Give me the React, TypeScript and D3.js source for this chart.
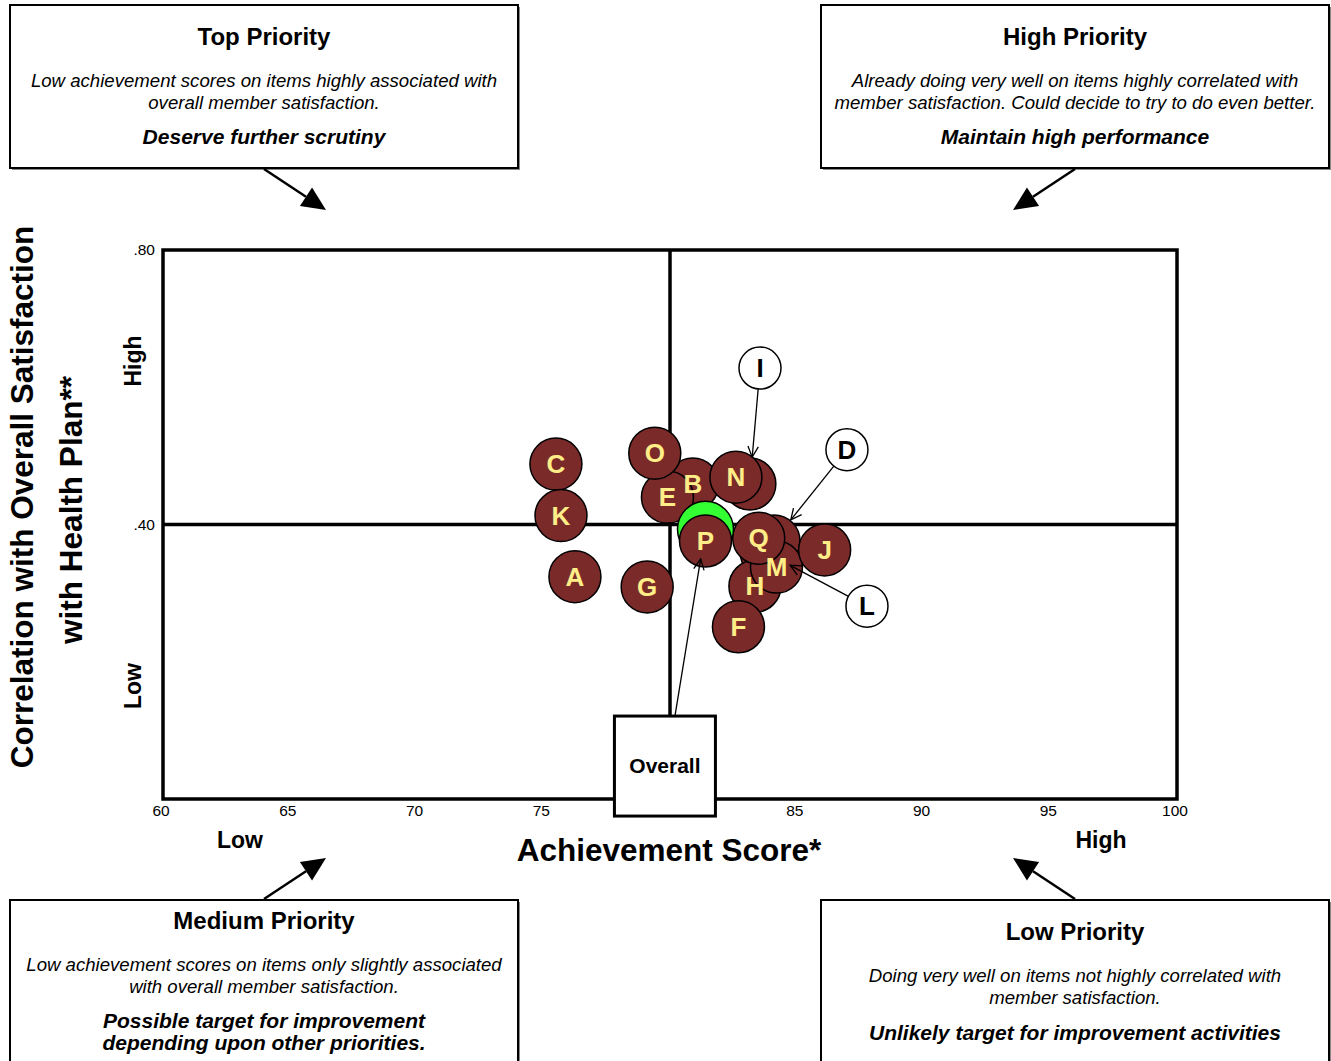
import React from "react";
import * as d3 from "d3";

// ---- data ----
const itemLabels = ["L", "D", "I", "B", "H", "M", "Q", "J", "N", "E", "O", "C", "K", "A", "G", "P", "F"];
const achievementScores = [83.8, 84.1, 83.15, 80.9, 83.35, 84.2, 83.5, 86.1, 82.6, 79.9, 79.4, 75.5, 75.7, 76.25, 79.1, 81.4, 82.7];
const correlations = [0.359, 0.376, 0.459, 0.459, 0.31, 0.338, 0.38, 0.363, 0.469, 0.44, 0.504, 0.488, 0.413, 0.324, 0.309, 0.376, 0.251];

const overallScore = 81.4;
const overallCorrelation = 0.393;

const xTicks = [60, 65, 70, 75, 85, 90, 95, 100];
const yTicks = [0.8, 0.4];
const xDivider = 80;
const yDivider = 0.4;

// callouts: label, callout position (data units)
const calloutLabels = ["I", "D", "L"];
const calloutX = [83.55, 86.98, 87.77];
const calloutY = [0.628, 0.509, 0.281];

const overallBoxX = 79.8;
const overallBoxY = 0.048;

const FONT = "'Liberation Sans', Arial, Helvetica, sans-serif";

const M = { left: 163, right: 1177, top: 250, bottom: 799 };

function App() {
  const x = d3.scaleLinear().domain([60, 100]).range([M.left, M.right]);
  const y = d3.scaleLinear().domain([0, 0.8]).range([M.bottom, M.top]);
  const R = 26;
  const CR = 21;

  const points = itemLabels.map((l, i) => ({ label: l, cx: x(achievementScores[i]), cy: y(correlations[i]) }));
  const ox = x(overallScore);
  const oy = y(overallCorrelation);

  const openHead = (x1: number, y1: number, x2: number, y2: number, key: string) => {
    const a = Math.atan2(y2 - y1, x2 - x1);
    const len = 12;
    const spread = 0.45;
    const p1 = [x2 - len * Math.cos(a - spread), y2 - len * Math.sin(a - spread)];
    const p2 = [x2 - len * Math.cos(a + spread), y2 - len * Math.sin(a + spread)];
    return (
      <g key={key}>
        <line x1={x1} y1={y1} x2={x2} y2={y2} stroke="#000" strokeWidth={1.3} />
        <polyline points={`${p1[0]},${p1[1]} ${x2},${y2} ${p2[0]},${p2[1]}`} fill="none" stroke="#000" strokeWidth={1.3} />
      </g>
    );
  };

  const filledArrow = (x1: number, y1: number, x2: number, y2: number, key: string) => {
    const a = Math.atan2(y2 - y1, x2 - x1);
    const len = 24;
    const half = 11;
    const bx = x2 - len * Math.cos(a);
    const by = y2 - len * Math.sin(a);
    const nx = -Math.sin(a);
    const ny = Math.cos(a);
    return (
      <g key={key}>
        <line x1={x1} y1={y1} x2={bx} y2={by} stroke="#000" strokeWidth={2.5} />
        <polygon points={`${x2},${y2} ${bx + nx * half},${by + ny * half} ${bx - nx * half},${by - ny * half}`} fill="#000" />
      </g>
    );
  };

  const box = (bx: number, by: number, w: number, h: number, key: string) => (
    <g key={key}>
      <rect x={bx + 2} y={by + 2} width={w} height={h} fill="#888" />
      <rect x={bx} y={by} width={w} height={h} fill="#fff" stroke="#000" strokeWidth={2} />
    </g>
  );

  const calloutShapes = calloutLabels.map((l, i) => {
    const cx = x(calloutX[i]);
    const cy = y(calloutY[i]);
    const t = points.find((p) => p.label === l)!;
    const a = Math.atan2(t.cy - cy, t.cx - cx);
    const sx = cx + CR * Math.cos(a);
    const sy = cy + CR * Math.sin(a);
    const ex = t.cx - (R + 1) * Math.cos(a);
    const ey = t.cy - (R + 1) * Math.sin(a);
    return { l, cx, cy, sx, sy, ex, ey };
  });

  const obx = x(overallBoxX);
  const oby = y(overallBoxY);
  const obW = 101;
  const obH = 100;
  const oStartX = obx + 10;
  const oStartY = oby - obH / 2;
  const oa = Math.atan2(oy - oStartY, ox - oStartX);
  const oEndX = ox - 30 * Math.cos(oa);
  const oEndY = oy - 30 * Math.sin(oa);

  const textItalic = { fontFamily: FONT, fontStyle: "italic", fontSize: 18.6, textAnchor: "middle" as const };
  const titleStyle = { fontFamily: FONT, fontWeight: "bold" as const, fontSize: 24, textAnchor: "middle" as const };
  const tagStyle = { fontFamily: FONT, fontWeight: "bold" as const, fontStyle: "italic", fontSize: 21, textAnchor: "middle" as const };

  return (
    <svg width={1331} height={1061} style={{ position: "absolute", left: 0, top: 0, background: "#fff" }}>
      {/* quadrant boxes */}
      {box(10, 5, 508, 163, "b1")}
      <text x={264} y={45} {...titleStyle}>Top Priority</text>
      <text x={264} y={87} {...textItalic}>Low achievement scores on items highly associated with</text>
      <text x={264} y={109} {...textItalic}>overall member satisfaction.</text>
      <text x={264} y={144} {...tagStyle}>Deserve further scrutiny</text>
      {filledArrow(264, 169, 326, 210, "a1")}

      {box(821, 5, 508, 163, "b2")}
      <text x={1075} y={45} {...titleStyle}>High Priority</text>
      <text x={1075} y={87} {...textItalic}>Already doing very well on items highly correlated with</text>
      <text x={1075} y={109} {...textItalic}>member satisfaction. Could decide to try to do even better.</text>
      <text x={1075} y={144} {...tagStyle}>Maintain high performance</text>
      {filledArrow(1075, 169, 1013, 210, "a2")}

      {box(10, 900, 508, 170, "b3")}
      <text x={264} y={929} {...titleStyle}>Medium Priority</text>
      <text x={264} y={971} {...textItalic}>Low achievement scores on items only slightly associated</text>
      <text x={264} y={993} {...textItalic}>with overall member satisfaction.</text>
      <text x={264} y={1028} {...tagStyle}>Possible target for improvement</text>
      <text x={264} y={1050} {...tagStyle}>depending upon other priorities.</text>
      {filledArrow(264, 899, 326, 858, "a3")}

      {box(821, 900, 508, 170, "b4")}
      <text x={1075} y={940} {...titleStyle}>Low Priority</text>
      <text x={1075} y={982} {...textItalic}>Doing very well on items not highly correlated with</text>
      <text x={1075} y={1004} {...textItalic}>member satisfaction.</text>
      <text x={1075} y={1040} {...tagStyle}>Unlikely target for improvement activities</text>
      {filledArrow(1075, 899, 1013, 858, "a4")}

      {/* plot frame */}
      <rect x={M.left} y={M.top} width={M.right - M.left} height={M.bottom - M.top} fill="#fff" stroke="#000" strokeWidth={3.5} />
      <line x1={x(xDivider)} x2={x(xDivider)} y1={M.top} y2={M.bottom} stroke="#000" strokeWidth={3.5} />
      <line x1={M.left} x2={M.right} y1={y(yDivider)} y2={y(yDivider)} stroke="#000" strokeWidth={3.5} />

      {/* ticks */}
      {xTicks.map((t) => (
        <text key={"x" + t} x={x(t) - 2} y={M.bottom + 17} fontFamily={FONT} fontSize={15.5} textAnchor="middle">{t}</text>
      ))}
      {yTicks.map((t) => (
        <text key={"y" + t} x={M.left - 8} y={y(t) + 5} fontFamily={FONT} fontSize={15.5} textAnchor="end">{d3.format(".2f")(t).replace(/^0/, "")}</text>
      ))}

      {/* axis titles */}
      <text x={669} y={861} fontFamily={FONT} fontWeight="bold" fontSize={31.5} textAnchor="middle">Achievement Score*</text>
      <text x={240} y={848} fontFamily={FONT} fontWeight="bold" fontSize={23} textAnchor="middle">Low</text>
      <text x={1101} y={848} fontFamily={FONT} fontWeight="bold" fontSize={23} textAnchor="middle">High</text>
      <text transform="translate(33,497) rotate(-90)" fontFamily={FONT} fontWeight="bold" fontSize={31.5} textAnchor="middle">Correlation with Overall Satisfaction</text>
      <text transform="translate(82,510) rotate(-90)" fontFamily={FONT} fontWeight="bold" fontSize={31.5} textAnchor="middle">with Health Plan**</text>
      <text transform="translate(141,361) rotate(-90)" fontFamily={FONT} fontWeight="bold" fontSize={23} textAnchor="middle">High</text>
      <text transform="translate(141,686) rotate(-90)" fontFamily={FONT} fontWeight="bold" fontSize={23} textAnchor="middle">Low</text>

      {/* markers */}
      {points.slice(0, 15).map((p) => (
        <circle key={"c" + p.label} cx={p.cx} cy={p.cy} r={R} fill="#7b2a2a" stroke="#000" strokeWidth={1.5} />
      ))}
      <circle cx={ox} cy={oy} r={28} fill="#33ff33" stroke="#000" strokeWidth={1.5} />
      {points.slice(15).map((p) => (
        <circle key={"c" + p.label} cx={p.cx} cy={p.cy} r={R} fill="#7b2a2a" stroke="#000" strokeWidth={1.5} />
      ))}
      {points
        .filter((p) => !calloutLabels.includes(p.label))
        .map((p) => (
          <text key={"t" + p.label} x={p.cx} y={p.cy + 9} fontFamily={FONT} fontWeight="bold" fontSize={26} fill="#ffee88" textAnchor="middle">{p.label}</text>
        ))}

      {/* callouts */}
      {calloutShapes.map((c) => (
        <g key={"co" + c.l}>
          {openHead(c.sx, c.sy, c.ex, c.ey, "h" + c.l)}
          <circle cx={c.cx} cy={c.cy} r={CR} fill="#fff" stroke="#000" strokeWidth={1.5} />
          <text x={c.cx} y={c.cy + 9} fontFamily={FONT} fontWeight="bold" fontSize={26} textAnchor="middle">{c.l}</text>
        </g>
      ))}

      {/* overall box */}
      {openHead(oStartX, oStartY, oEndX, oEndY, "ov")}
      <rect x={obx - obW / 2} y={oby - obH / 2} width={obW} height={obH} fill="#fff" stroke="#000" strokeWidth={3} />
      <text x={obx} y={oby + 7} fontFamily={FONT} fontWeight="bold" fontSize={21} textAnchor="middle">Overall</text>
    </svg>
  );
}

export default App;
